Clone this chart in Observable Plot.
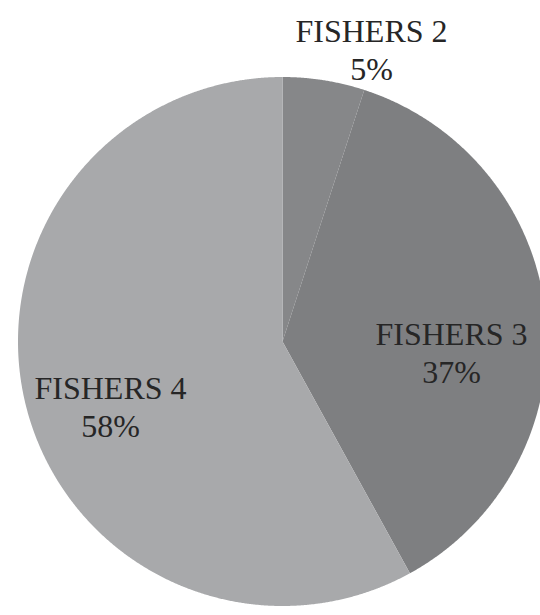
<!DOCTYPE html>
<html>
<head>
<meta charset="utf-8">
<script src="https://cdn.jsdelivr.net/npm/d3@7"></script>
<script src="https://cdn.jsdelivr.net/npm/@observablehq/plot@0.6"></script>
<style>
  html, body { margin: 0; padding: 0; background: #ffffff; }
  #chart { width: 540px; height: 615px; overflow: hidden; }
</style>
</head>
<body>
<div id="chart"></div>
<script>
// ---- data ----
const categories = ["FISHERS 2", "FISHERS 3", "FISHERS 4"];
const shares = [5, 37, 58];
const sliceColors = ["#868789", "#7e7f81", "#a8a9ab"];

// ---- layout ----
const W = 540, H = 615;
const cx = 282, cy = 341, R = 264.5;
// label anchor points (pixel layout, Excel-style "best fit")
const labelAt = {
  "FISHERS 2": [371, 48],
  "FISHERS 3": [451, 351],
  "FISHERS 4": [110, 405]
};

const rows = categories.map((c, i) => ({cat: c, value: shares[i]}));
const arcs = d3.pie().sort(null).value(d => d.value)(rows);

const pts = [];
for (const a of arcs) {
  const c = a.data.cat;
  pts.push({cat: c, x: cx, y: cy});
  const n = Math.max(2, Math.ceil((a.endAngle - a.startAngle) / 0.004));
  for (let k = 0; k <= n; k++) {
    const t = a.startAngle + (a.endAngle - a.startAngle) * k / n;
    pts.push({cat: c, x: cx + R * Math.sin(t), y: cy - R * Math.cos(t)});
  }
  pts.push({cat: c, x: cx, y: cy});
}

const labels = rows.map(d => ({
  x: labelAt[d.cat][0],
  y: labelAt[d.cat][1],
  text: `${d.cat}\n${d.value}%`
}));

const chart = Plot.plot({
  width: W,
  height: H,
  margin: 0,
  style: {background: "#ffffff", overflow: "hidden"},
  x: {domain: [0, W], range: [0, W], axis: null},
  y: {domain: [0, H], range: [0, H], axis: null},
  color: {domain: categories, range: sliceColors},
  marks: [
    Plot.line(pts, {x: "x", y: "y", z: "cat", fill: "cat", stroke: "none", curve: "linear"}),
    Plot.text(labels, {
      x: "x", y: "y", text: "text",
      fontFamily: "Liberation Serif",
      fontSize: 32,
      lineHeight: 1.19,
      lineAnchor: "middle",
      textAnchor: "middle",
      fill: "#262626"
    })
  ]
});
document.getElementById("chart").appendChild(chart);
</script>
</body>
</html>
